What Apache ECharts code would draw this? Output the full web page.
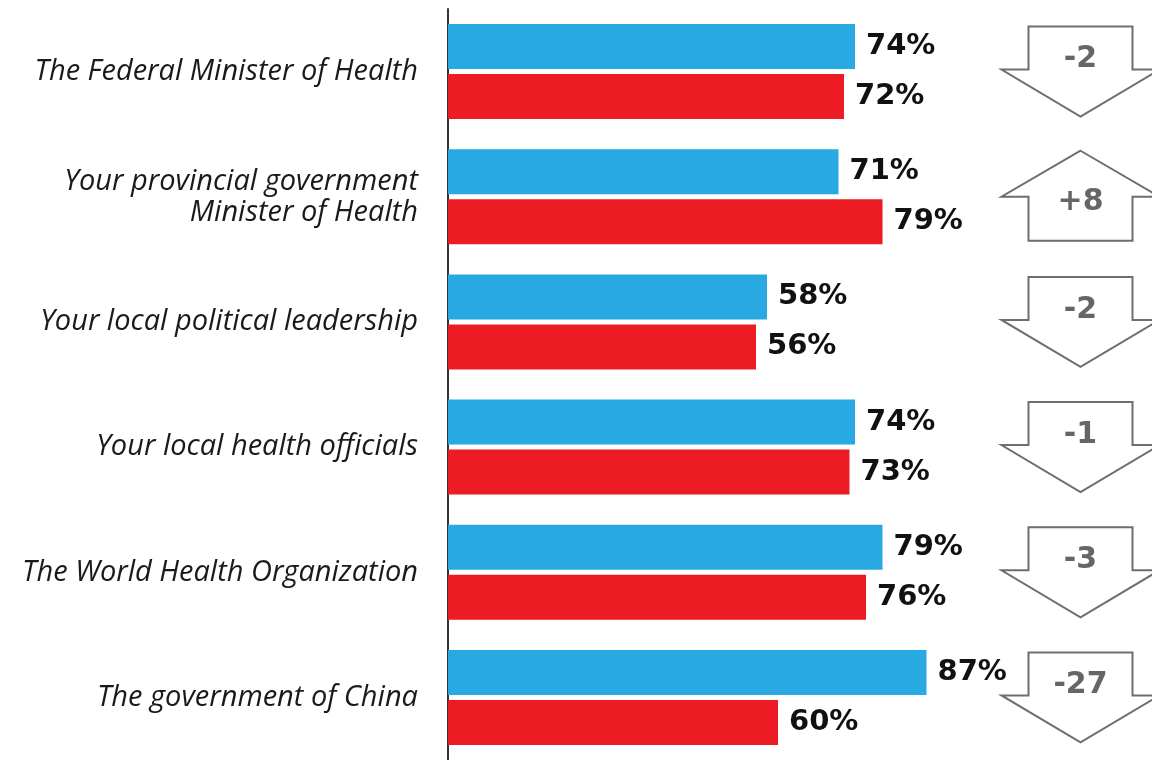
<!DOCTYPE html>
<html>
<head>
<meta charset="utf-8">
<script src="https://cdn.jsdelivr.net/npm/echarts@6/dist/echarts.min.js"></script>
<style>
html,body{margin:0;padding:0;background:#fff;}
#chart{width:1152px;height:760px;}
</style>
</head>
<body>
<div id="chart"></div>
<script>
var categories = [
  'The Federal Minister of Health',
  'Your provincial government\nMinister of Health',
  'Your local political leadership',
  'Your local health officials',
  'The World Health Organization',
  'The government of China'
];
var blueValues = [74, 71, 58, 74, 79, 87];
var redValues = [72, 79, 56, 73, 76, 60];
var changeValues = [-2, 8, -2, -1, -3, -27];

var arrowData = changeValues.map(function (c, i) { return [115, i, c]; });

var chart = echarts.init(document.getElementById('chart'));
chart.setOption({
  animation: false,
  backgroundColor: '#ffffff',
  grid: { left: 448, top: 9, width: 550, height: 756, containLabel: false },
  xAxis: {
    type: 'value', min: 0, max: 100, show: false
  },
  yAxis: {
    type: 'category',
    data: categories,
    inverse: true,
    axisTick: { show: false },
    axisLine: { show: true, lineStyle: { color: '#333', width: 2 } },
    axisLabel: {
      margin: 30,
      color: '#1a1a1a',
      fontFamily: 'Open Sans',
      fontStyle: 'italic',
      fontWeight: 400,
      fontSize: 29,
      lineHeight: 31,
      align: 'right'
    }
  },
  series: [
    {
      type: 'bar',
      data: blueValues,
      barWidth: 45,
      barGap: '11%',
      itemStyle: { color: '#29A9E1' },
      label: {
        show: true, position: 'right', distance: 11,
        formatter: '{c}%', color: '#111',
        fontFamily: 'DejaVu Sans', fontWeight: 'bold', fontSize: 29
      }
    },
    {
      type: 'bar',
      data: redValues,
      barWidth: 45,
      barGap: '11%',
      itemStyle: { color: '#ED1C24' },
      label: {
        show: true, position: 'right', distance: 11,
        formatter: '{c}%', color: '#111',
        fontFamily: 'DejaVu Sans', fontWeight: 'bold', fontSize: 29
      }
    },
    {
      type: 'custom',
      clip: false,
      data: arrowData,
      encode: { x: 0, y: 1 },
      renderItem: function (params, api) {
        var p = api.coord([api.value(0), api.value(1)]);
        var cx = p[0], cy = p[1];
        var c = api.value(2);
        var rw = 52, ww = 79;
        var pts, ty;
        if (c < 0) {
          pts = [[cx - rw, cy - 45], [cx + rw, cy - 45], [cx + rw, cy - 2], [cx + ww, cy - 2],
                 [cx, cy + 45], [cx - ww, cy - 2], [cx - rw, cy - 2]];
          ty = cy - 12;
        } else {
          pts = [[cx, cy - 46], [cx + ww, cy], [cx + rw, cy], [cx + rw, cy + 44],
                 [cx - rw, cy + 44], [cx - rw, cy], [cx - ww, cy]];
          ty = cy + 5;
        }
        return {
          type: 'group',
          children: [
            { type: 'polygon', shape: { points: pts },
              style: { fill: '#fff', stroke: '#6e6e6e', lineWidth: 2 } },
            { type: 'text', x: cx, y: ty,
              style: { text: (c > 0 ? '+' : '') + c, fill: '#666',
                font: 'bold 30px "DejaVu Sans"', align: 'center', verticalAlign: 'middle' } }
          ]
        };
      }
    }
  ]
});
</script>
</body>
</html>
